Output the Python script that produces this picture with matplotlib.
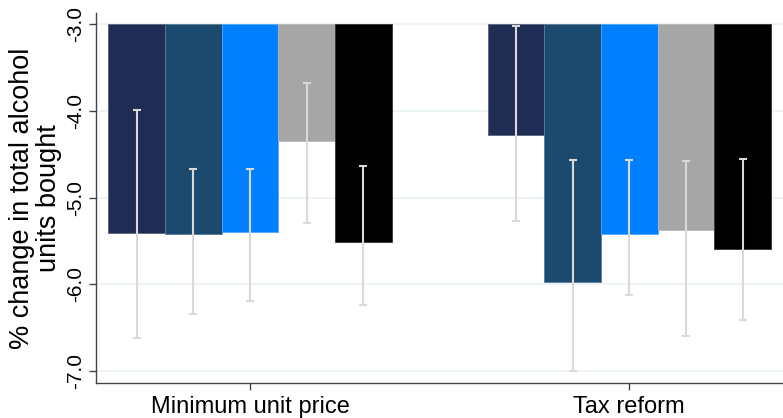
import numpy as np
import matplotlib.pyplot as plt

plt.rcParams['font.family'] = ['Liberation Sans', 'DejaVu Sans']

policies = ["Minimum unit price", "Tax reform"]
series_colors = ["#1f2c53", "#1c4a6e", "#0080ff", "#a6a6a6", "#000000"]
edge_colors = ["#5a6480", "#5a7c96", "#4da6ff", "#b8b8b8", "#333333"]

# percent change per group (5 subgroups each), with lower/upper CI limits
mup_est = [-5.41, -5.42, -5.40, -4.35, -5.51]
mup_lo = [-6.62, -6.35, -6.19, -5.29, -6.24]
mup_hi = [-3.99, -4.67, -4.67, -3.68, -4.63]

tax_est = [-4.28, -5.97, -5.42, -5.37, -5.59]
tax_lo = [-5.27, -7.00, -6.13, -6.60, -6.41]
tax_hi = [-3.02, -4.57, -4.57, -4.58, -4.55]

est = np.array([mup_est, tax_est])
lo = np.array([mup_lo, tax_lo])
hi = np.array([mup_hi, tax_hi])

base = -3.0
width = 0.1494
centers = np.arange(len(policies))

fig = plt.figure(figsize=(7.83, 4.18), dpi=100)
ax = fig.add_axes([0.1226, 0.083, 0.8774, 0.8866])

for i in range(5):
    x = centers + (i - 2) * width
    ax.bar(x, est[:, i] - base, bottom=base, width=width,
           color=series_colors[i], edgecolor=edge_colors[i], linewidth=0.6, zorder=2)
    ax.errorbar(x, est[:, i], yerr=[est[:, i] - lo[:, i], hi[:, i] - est[:, i]],
                fmt='none', ecolor='#d9d9d9', elinewidth=1.5, capsize=2.6,
                capthick=1.5, zorder=3)

ax.set_xlim(-0.4063, 1.4055)
ax.set_ylim(-7.145, -2.865)

yt = [-3.0, -4.0, -5.0, -6.0, -7.0]
ax.set_yticks(yt)
ax.set_yticklabels(["%.1f" % v for v in yt], rotation=90, va='center', fontsize=15)
ax.yaxis.grid(True, color='#eaf2f3', linewidth=1.2, zorder=0)
ax.set_axisbelow(True)

ax.set_xticks(centers)
ax.set_xticklabels(policies, fontsize=17)
ax.tick_params(axis='both', color='#444444', length=5, width=1)
ax.tick_params(axis='y', pad=3)
ax.tick_params(axis='x', pad=4)

ax.set_ylabel("% change in total alcohol\nunits bought", fontsize=19.5, linespacing=1.02,
              labelpad=3)

for s in ['top', 'right']:
    ax.spines[s].set_visible(False)
for s in ['left', 'bottom']:
    ax.spines[s].set_color('#444444')
    ax.spines[s].set_linewidth(1)

fig.savefig("out.png", dpi=100)
